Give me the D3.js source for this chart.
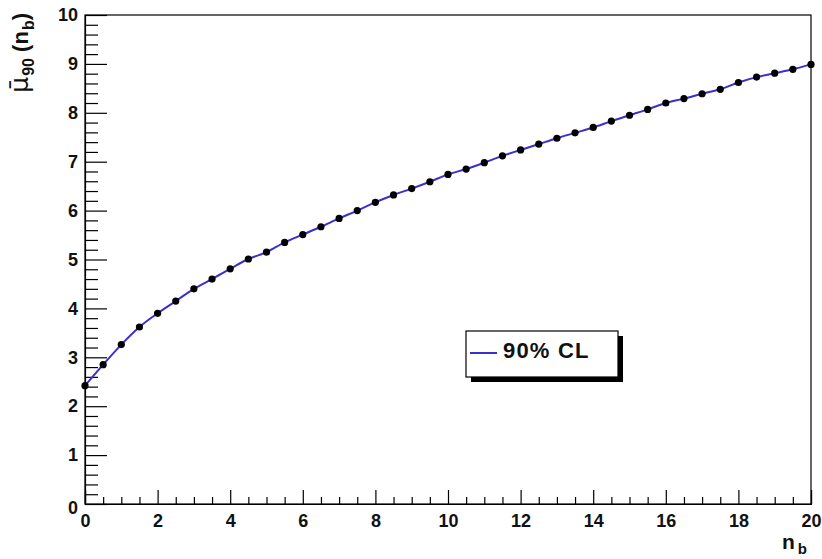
<!DOCTYPE html>
<html>
<head>
<meta charset="utf-8">
<script src="https://cdn.jsdelivr.net/npm/d3@7"></script>
<style>
  html, body { margin: 0; padding: 0; background: #ffffff; }
  svg { display: block; font-family: "Liberation Sans", Arial, sans-serif; font-weight: bold; }
</style>
</head>
<body>
<svg id="chart" width="822" height="559"></svg>
<script>
// Mean 90% CL upper limit as a function of the expected background n_b
const nb = [0, 0.5, 1, 1.5, 2, 2.5, 3, 3.5, 4, 4.5, 5, 5.5, 6, 6.5, 7, 7.5, 8, 8.5, 9, 9.5,
            10, 10.5, 11, 11.5, 12, 12.5, 13, 13.5, 14, 14.5, 15, 15.5, 16, 16.5, 17, 17.5,
            18, 18.5, 19, 19.5, 20];
const mu90 = [2.42, 2.85, 3.26, 3.62, 3.90, 4.15, 4.40, 4.60, 4.81, 5.01, 5.15,
              5.35, 5.51, 5.67, 5.84, 6.00, 6.17, 6.32, 6.45, 6.59, 6.74,
              6.85, 6.98, 7.12, 7.24, 7.36, 7.48, 7.59, 7.70, 7.83, 7.95,
              8.07, 8.20, 8.29, 8.39, 8.48, 8.62, 8.73, 8.81, 8.89, 8.99];
const xMajorTicks = [0, 2, 4, 6, 8, 10, 12, 14, 16, 18, 20];
const yMajorTicks = [0, 1, 2, 3, 4, 5, 6, 7, 8, 9, 10];
const legendLabel = "90% CL";

const lineColor = "#3b30cc";
const svg = d3.select("#chart");

const x = d3.scaleLinear().domain([0, 20]).range([85, 811]);
const y = d3.scaleLinear().domain([0, 10]).range([504, 15]);

// frame
svg.append("rect")
  .attr("x", x(0)).attr("y", y(10))
  .attr("width", x(20) - x(0)).attr("height", y(0) - y(10))
  .attr("fill", "none").attr("stroke", "#000").attr("stroke-width", 1.2);

// minor ticks (no labels)
const xMinor = d3.range(0, 20.001, 0.5).filter(v => Math.abs(v / 2 - Math.round(v / 2)) > 1e-6);
const yMinor = d3.range(0, 10.001, 0.2).filter(v => Math.abs(v - Math.round(v)) > 1e-6);

svg.append("g")
  .attr("transform", `translate(0,${y(0)})`)
  .call(d3.axisBottom(x).tickValues(xMinor).tickSize(-7).tickFormat(""))
  .call(g => g.select(".domain").remove())
  .call(g => g.selectAll("line").attr("stroke", "#000").attr("stroke-width", 1.2));

svg.append("g")
  .attr("transform", `translate(${x(0)},0)`)
  .call(d3.axisLeft(y).tickValues(yMinor).tickSize(-13).tickFormat(""))
  .call(g => g.select(".domain").remove())
  .call(g => g.selectAll("line").attr("stroke", "#000").attr("stroke-width", 1.2));

// major ticks with labels
svg.append("g")
  .attr("transform", `translate(0,${y(0)})`)
  .call(d3.axisBottom(x).tickValues(xMajorTicks).tickSize(-14).tickPadding(10).tickFormat(d3.format("d")))
  .call(g => g.select(".domain").attr("stroke", "#000").attr("stroke-width", 1.2))
  .call(g => g.selectAll("line").attr("stroke", "#000").attr("stroke-width", 1.2))
  .call(g => g.selectAll("text").attr("fill", "#111").attr("font-size", 18)
    .attr("font-family", "Liberation Sans, Arial, sans-serif").attr("font-weight", "bold"));

svg.append("g")
  .attr("transform", `translate(${x(0)},0)`)
  .call(d3.axisLeft(y).tickValues(yMajorTicks).tickSize(-22).tickPadding(7).tickFormat(d3.format("d")))
  .call(g => g.select(".domain").attr("stroke", "#000").attr("stroke-width", 1.2))
  .call(g => g.selectAll("line").attr("stroke", "#000").attr("stroke-width", 1.2))
  .call(g => g.selectAll("text").attr("fill", "#111").attr("font-size", 18)
    .attr("font-family", "Liberation Sans, Arial, sans-serif").attr("font-weight", "bold"))
  .call(g => g.selectAll(".tick").filter(d => d === 0).select("text").attr("dy", "0.55em"));

// x-axis title
const xTitle = svg.append("text")
  .attr("x", 807).attr("y", 549)
  .attr("text-anchor", "end")
  .attr("font-size", 21).attr("fill", "#111");
xTitle.append("tspan").text("n");
xTitle.append("tspan").attr("font-size", 15).attr("dy", 5).attr("dx", 3).text("b");

// y-axis title
const yTitle = svg.append("text")
  .attr("transform", "translate(28,13) rotate(-90)")
  .attr("text-anchor", "end")
  .attr("font-size", 22).attr("fill", "#111");
yTitle.append("tspan").attr("font-family", "DejaVu Sans, sans-serif").attr("font-weight", "normal")
  .attr("font-size", 25).text("\u03bc\u0304");
yTitle.append("tspan").attr("font-size", 16).attr("dy", 6).attr("dx", 1).text("90");
yTitle.append("tspan").attr("dy", -6).text(" (n");
yTitle.append("tspan").attr("font-size", 16).attr("dy", 6).attr("dx", 1).text("b");
yTitle.append("tspan").attr("dy", -6).text(")");

// data curve and markers
const pts = nb.map((v, i) => [v, mu90[i]]);
svg.append("path")
  .datum(pts)
  .attr("fill", "none")
  .attr("stroke", lineColor)
  .attr("stroke-width", 2)
  .attr("d", d3.line().x(d => x(d[0])).y(d => y(d[1])).curve(d3.curveMonotoneX));

svg.append("g").selectAll("circle")
  .data(pts)
  .join("circle")
  .attr("cx", d => x(d[0]))
  .attr("cy", d => y(d[1]))
  .attr("r", 3.6)
  .attr("fill", "#000");

// legend box with drop shadow
const lg = { x: 466, y: 331, w: 152, h: 46 };
svg.append("rect")
  .attr("x", lg.x + 5).attr("y", lg.y + 5).attr("width", lg.w).attr("height", lg.h)
  .attr("fill", "#000");
svg.append("rect")
  .attr("x", lg.x).attr("y", lg.y).attr("width", lg.w).attr("height", lg.h)
  .attr("fill", "#fff").attr("stroke", "#000").attr("stroke-width", 1.2);
svg.append("line")
  .attr("x1", lg.x + 4).attr("x2", lg.x + 31)
  .attr("y1", lg.y + 22).attr("y2", lg.y + 22)
  .attr("stroke", lineColor).attr("stroke-width", 2);
svg.append("text")
  .attr("x", lg.x + 37).attr("y", lg.y + 27)
  .attr("font-size", 22).attr("letter-spacing", 1.2).attr("fill", "#111")
  .text(legendLabel);
</script>
</body>
</html>
